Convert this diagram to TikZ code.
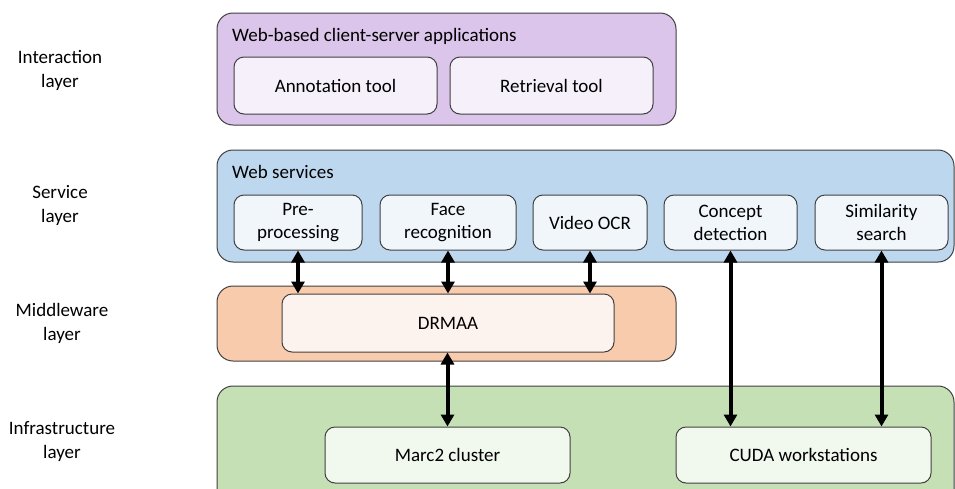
\documentclass[tikz,border=0pt]{standalone}
\usepackage{fontspec}
\setmainfont{Carlito}
\usetikzlibrary{arrows.meta}

\definecolor{edge}{HTML}{404040}
\definecolor{purpleOut}{HTML}{DCC5EA}
\definecolor{purpleIn}{HTML}{F5F0F9}
\definecolor{blueOut}{HTML}{BDD7EE}
\definecolor{blueIn}{HTML}{F1F6FB}
\definecolor{orangeOut}{HTML}{F8CBAD}
\definecolor{orangeIn}{HTML}{FDF3EE}
\definecolor{greenOut}{HTML}{C5E0B4}
\definecolor{greenIn}{HTML}{F1F8EE}

\tikzset{
  layerbox/.style={draw=edge, line width=1pt, rounded corners=16pt},
  compbox/.style={draw=edge, line width=1pt, rounded corners=10pt, align=center,
    inner sep=0pt, font=\fontsize{19}{23}\selectfont},
  layerlabel/.style={align=center, font=\fontsize{19}{24}\selectfont},
  titletext/.style={anchor=west, inner sep=0pt, font=\fontsize{19}{23}\selectfont},
  biarrow/.style={line width=4pt, {Triangle[length=12pt,width=13pt]}-{Triangle[length=12pt,width=13pt]}},
}

\begin{document}
\begin{tikzpicture}[x=1pt, y=-1pt]
\clip (0,0) rectangle (955,488);
\fill[white] (0,0) rectangle (955,488);

% layer names
\node[layerlabel] (lInter) at (60,70) {Interaction\\layer};
\node[layerlabel] (lServ) at (60,205) {Service\\layer};
\node[layerlabel] (lMid) at (62,323) {Middleware\\layer};
\node[layerlabel] (lInfra) at (62,442) {Infrastructure\\layer};

% interaction layer
\path[layerbox, fill=purpleOut] (217,13) rectangle (676,125);
\node[titletext] (tInter) at (232,36) {Web-based client-server applications};
\node[compbox, fill=purpleIn, minimum width=203pt, minimum height=57pt] (annot) at (335.5,85.5) {Annotation tool};
\node[compbox, fill=purpleIn, minimum width=203pt, minimum height=57pt] (retr) at (551.5,85.5) {Retrieval tool};

% service layer
\path[layerbox, fill=blueOut] (217,150) rectangle (954,262);
\node[titletext] (tServ) at (232,172) {Web services};
\node[compbox, fill=blueIn, minimum width=128pt, minimum height=55pt] (pre) at (298,222.5) {Pre-\\processing};
\node[compbox, fill=blueIn, minimum width=136pt, minimum height=55pt] (face) at (448,222.5) {Face\\recognition};
\node[compbox, fill=blueIn, minimum width=114pt, minimum height=55pt] (ocr) at (590,222.5) {Video OCR};
\node[compbox, fill=blueIn, minimum width=133pt, minimum height=55pt] (concept) at (730.5,222.5) {Concept\\detection};
\node[compbox, fill=blueIn, minimum width=133pt, minimum height=55pt] (simil) at (881.5,222.5) {Similarity\\search};

% middleware layer
\path[layerbox, fill=orangeOut] (217,286) rectangle (676,361);
\node[compbox, fill=orangeIn, minimum width=332pt, minimum height=58pt] (drmaa) at (448,323) {DRMAA};

% infrastructure layer
\path[layerbox, fill=greenOut] (217,386) rectangle (954,510);
\node[compbox, fill=greenIn, minimum width=245pt, minimum height=56pt] (marc) at (447.5,455) {Marc2 cluster};
\node[compbox, fill=greenIn, minimum width=255pt, minimum height=56pt] (cuda) at (803.5,455) {CUDA workstations};

% connectors
\draw[biarrow] (pre.south) -- (pre.south |- drmaa.north);
\draw[biarrow] (face.south) -- (face.south |- drmaa.north);
\draw[biarrow] (ocr.south) -- (ocr.south |- drmaa.north);
\draw[biarrow] (marc.north) -- (marc.north |- drmaa.south);
\draw[biarrow] (concept.south) -- (concept.south |- cuda.north);
\draw[biarrow] (simil.south) -- (simil.south |- cuda.north);
\end{tikzpicture}
\end{document}
